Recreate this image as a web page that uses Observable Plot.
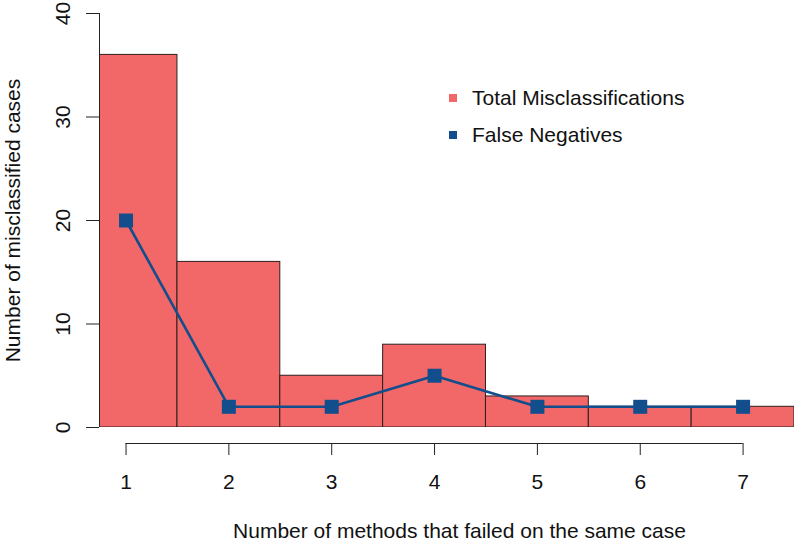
<!DOCTYPE html>
<html>
<head>
<meta charset="utf-8">
<script src="https://cdn.jsdelivr.net/npm/d3@7"></script>
<script src="https://cdn.jsdelivr.net/npm/@observablehq/plot@0.6"></script>
<style>
  html, body { margin: 0; padding: 0; background: #fff; }
  #wrap { position: relative; width: 800px; height: 544px; font-family: "Liberation Sans", Arial, Helvetica, sans-serif; }
  #legend { position: absolute; left: 449px; top: 79px; font-size: 21px; color: #111; }
  #legend .item { display: flex; align-items: center; height: 37px; }
  #legend .sw { width: 8px; height: 8px; margin-right: 15px; }
</style>
</head>
<body>
<div id="wrap"></div>
<script>
// ---- data ----
const methods = [1, 2, 3, 4, 5, 6, 7];
const totalMisclassified = [36, 16, 5, 8, 3, 2, 2];
const falseNegatives = [20, 2, 2, 5, 2, 2, 2];
const yTicks = [0, 10, 20, 30, 40];
const seriesNames = ["Total Misclassifications", "False Negatives"];
const seriesColors = ["#F26868", "#124D8C"];
const xTitle = "Number of methods that failed on the same case";
const yTitle = "Number of misclassified cases";

const rows = methods.map((m, i) => ({m, total: totalMisclassified[i], fn: falseNegatives[i]}));
const xDomain = [0.742, 7.5];
const axisColor = "#222";

const chart = Plot.plot({
  width: 800,
  height: 544,
  marginLeft: 99,
  marginRight: 6,
  marginTop: 13,
  marginBottom: 117,
  style: {fontFamily: '"Liberation Sans", Arial, Helvetica, sans-serif', fontSize: "21px", color: "#111", background: "#fff"},
  x: {domain: xDomain, axis: null},
  y: {domain: [0, 40], axis: null},
  marks: [
    Plot.rectY(rows, {x1: d => d.m - 0.5, x2: d => d.m + 0.5, y1: 0, y2: "total", fill: seriesColors[0], stroke: "#2e1e1e", strokeWidth: 1, clip: true}),
    Plot.line(rows, {x: "m", y: "fn", stroke: seriesColors[1], strokeWidth: 2.6}),
    Plot.dot(rows, {x: "m", y: "fn", symbol: "square", r: 7.9, fill: seriesColors[1], stroke: null}),
    // y axis
    Plot.ruleX([xDomain[0]], {y1: yTicks[0], y2: yTicks[yTicks.length - 1], stroke: axisColor}),
    Plot.axisY({ticks: yTicks, tickSize: 13, tickFormat: () => "", label: null, stroke: axisColor}),
    Plot.text(yTicks, {y: d => d, frameAnchor: "left", dx: -36.5, rotate: -90, textAnchor: "middle", lineAnchor: "middle", text: d => String(d), fill: "#111"}),
    Plot.text([yTitle], {frameAnchor: "left", dx: -86, rotate: -90, textAnchor: "middle", lineAnchor: "middle", fill: "#111"}),
    // x axis (detached, R style)
    Plot.ruleY([0], {x1: methods[0], x2: methods[methods.length - 1], dy: 16, stroke: axisColor}),
    Plot.axisX({ticks: methods, tickSize: 12, dy: 16, tickFormat: () => "", label: null, stroke: axisColor}),
    Plot.text(methods, {x: d => d, frameAnchor: "bottom", lineAnchor: "top", dy: 47, text: d => String(d), fill: "#111"}),
    Plot.text([xTitle], {frameAnchor: "bottom", dx: 12.5, dy: 104, lineAnchor: "middle", fill: "#111"})
  ]
});

const wrap = document.getElementById("wrap");
wrap.appendChild(chart);
const legend = document.createElement("div");
legend.id = "legend";
seriesNames.forEach((name, i) => {
  const item = document.createElement("div");
  item.className = "item";
  const sw = document.createElement("span");
  sw.className = "sw";
  sw.style.background = seriesColors[i];
  const t = document.createElement("span");
  t.textContent = name;
  item.appendChild(sw);
  item.appendChild(t);
  legend.appendChild(item);
});
wrap.appendChild(legend);
</script>
</body>
</html>
